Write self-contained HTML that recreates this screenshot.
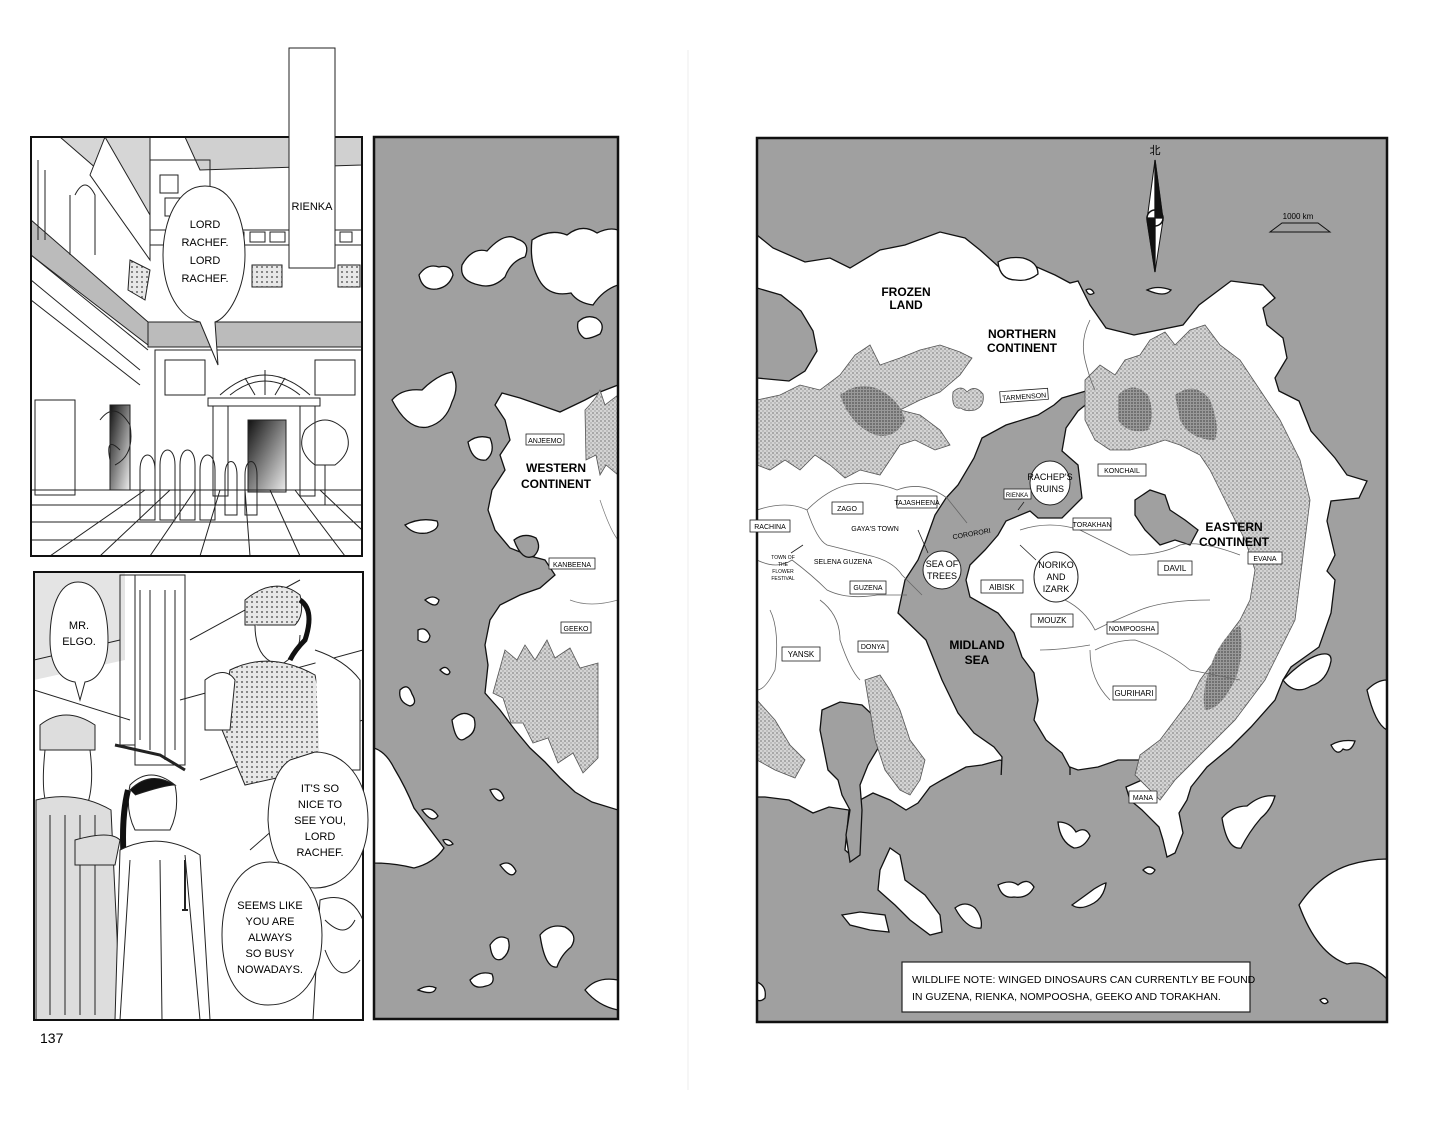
<!DOCTYPE html>
<html><head><meta charset="utf-8"><style>
html,body{margin:0;padding:0;background:#fff;}
svg{display:block;}
text{font-family:"Liberation Sans",sans-serif;}
</style></head><body>
<svg width="1456" height="1131" viewBox="0 0 1456 1131" xmlns="http://www.w3.org/2000/svg">
<defs>
<pattern id="mt" width="4" height="4" patternUnits="userSpaceOnUse">
<rect width="4" height="4" fill="#d4d4d4"/><circle cx="1" cy="1" r="0.9" fill="#888"/><circle cx="3" cy="3" r="0.7" fill="#999"/>
</pattern>
<pattern id="mtd" width="3" height="3" patternUnits="userSpaceOnUse">
<rect width="3" height="3" fill="#999"/><circle cx="1" cy="1" r="0.9" fill="#555"/>
</pattern>
<pattern id="knit" width="5" height="5" patternUnits="userSpaceOnUse">
<rect width="5" height="5" fill="#e8e8e8"/><circle cx="2" cy="2" r="1" fill="#666"/>
</pattern>
<linearGradient id="door" x1="0" y1="0" x2="1" y2="1"><stop offset="0" stop-color="#111"/><stop offset="1" stop-color="#eee"/></linearGradient>
<clipPath id="cR"><rect x="757" y="138" width="630" height="884"/></clipPath>
<clipPath id="cL"><rect x="374" y="137" width="244" height="882"/></clipPath>
<clipPath id="p1"><rect x="31" y="137" width="331" height="419"/></clipPath>
<clipPath id="p2"><rect x="34" y="572" width="329" height="448"/></clipPath>
</defs>

<!-- ================= PANEL 1 ================= -->
<g clip-path="url(#p1)" stroke="#222" stroke-width="1" fill="none">
<rect x="31" y="137" width="331" height="419" fill="#fff"/>
<polygon points="60,137 150,137 150,215" fill="#d6d6d6"/>
<polygon points="185,137 362,137 362,165 200,170" fill="#d0d0d0"/>
<polygon points="105,137 150,215 150,260 90,175" fill="#fff"/>
<rect x="150" y="160" width="60" height="70" />
<rect x="160" y="175" width="18" height="18"/><rect x="165" y="198" width="18" height="18"/>
<line x1="150" y1="230" x2="362" y2="230"/><line x1="150" y1="245" x2="362" y2="245"/>
<rect x="232" y="232" width="12" height="10"/><rect x="250" y="232" width="15" height="10"/><rect x="270" y="232" width="15" height="10"/><rect x="340" y="232" width="12" height="10"/>
<rect x="252" y="265" width="30" height="22" fill="url(#knit)"/><rect x="338" y="265" width="22" height="22" fill="url(#knit)"/>
<polygon points="130,260 150,270 145,300 128,290" fill="url(#knit)"/>
<polygon points="31,220 148,322 148,345 31,255" fill="#bbb"/>
<rect x="148" y="322" width="214" height="25" fill="#bbb"/>
<line x1="148" y1="347" x2="362" y2="347"/>
<line x1="31" y1="255" x2="148" y2="350"/><line x1="31" y1="280" x2="140" y2="370"/><line x1="31" y1="300" x2="140" y2="385"/>
<path d="M38,160 v80 M45,170 v70 M70,195 v60 M75,195 q10,-20 20,0 v60"/>
<rect x="155" y="350" width="207" height="140"/>
<rect x="165" y="360" width="40" height="35"/><rect x="315" y="360" width="40" height="35"/>
<path d="M220,395 q45,-40 90,0"/><path d="M230,395 q35,-28 70,0"/>
<line x1="265" y1="370" x2="265" y2="395"/><line x1="245" y1="378" x2="255" y2="395"/><line x1="285" y1="378" x2="275" y2="395"/>
<rect x="208" y="398" width="112" height="8"/>
<rect x="213" y="406" width="15" height="90"/><rect x="300" y="406" width="15" height="90"/>
<rect x="248" y="420" width="38" height="72" fill="url(#door)"/>
<rect x="110" y="405" width="20" height="85" fill="url(#door)"/>
<rect x="35" y="400" width="40" height="95"/>
<path d="M31,490 L362,490 M31,505 L362,505 M31,522 L362,522 M31,540 L362,540"/>
<path d="M170,490 L100,556 M195,490 L150,556 M220,490 L200,556 M245,490 L250,556 M270,490 L300,556 M295,490 L345,556 M320,490 L362,530 M145,490 L50,556"/>
<path d="M110,460 q-5,-25 10,-10 M140,470 c0,-20 15,-20 15,0 v50 h-15z M160,465 c0,-20 15,-20 15,0 v55 h-15z M180,465 c0,-20 15,-20 15,0 v55 h-15z M200,470 c0,-20 15,-20 15,0 v50 h-15z M225,475 c0,-18 12,-18 12,0 v40 h-12z M245,475 c0,-18 12,-18 12,0 v40 h-12z"/>
<path d="M305,430 q20,-20 40,0 q10,20 -10,35 h-20 q-20,-15 -10,-35z"/>
<path d="M325,465 v40 M315,505 h20"/>
<path d="M100,420 q15,-20 30,5 q5,30 -15,40"/>
</g>
<rect x="31" y="137" width="331" height="419" fill="none" stroke="#111" stroke-width="2"/>
<path d="M205,186 C235,186 245,225 245,255 C245,290 228,318 215,322 L218,365 L200,322 C180,318 163,292 163,255 C163,222 177,186 205,186 Z" fill="#fff" stroke="#222" stroke-width="1"/>
<text x="205" y="228" font-size="11" text-anchor="middle">LORD</text>
<text x="205" y="246" font-size="11" text-anchor="middle">RACHEF.</text>
<text x="205" y="264" font-size="11" text-anchor="middle">LORD</text>
<text x="205" y="282" font-size="11" text-anchor="middle">RACHEF.</text>
<rect x="289" y="48" width="46" height="220" fill="#fff" stroke="#222" stroke-width="1"/>
<text x="312" y="210" font-size="11" text-anchor="middle">RIENKA</text>

<!-- ================= PANEL 2 ================= -->
<g clip-path="url(#p2)" stroke="#222" stroke-width="1" fill="none">
<rect x="34" y="572" width="329" height="448" fill="#fff"/>
<polygon points="34,572 125,572 125,660 34,680" fill="#e4e4e4" stroke="none"/>
<rect x="120" y="575" width="35" height="170"/><rect x="135" y="575" width="50" height="190" fill="#fff"/>
<path d="M140,590 v150 M150,590 v160 M165,590 v170 M175,590 v160"/>
<path d="M115,745 L160,755 L185,770" stroke-width="3"/>
<path d="M34,660 L120,640 M34,690 L130,720 M190,640 L300,580 M180,700 L363,650 M200,780 L363,720 M250,850 L330,780"/>
<path d="M245,600 q30,-25 55,-5 q5,20 -5,30 l-50,0 z" fill="url(#knit)"/>
<path d="M255,625 q0,35 25,40 q20,-10 20,-30" fill="#fff"/>
<path d="M300,600 q15,10 5,40 q-10,10 -15,20" stroke-width="5" stroke="#111"/>
<path d="M230,670 q40,-20 85,5 l20,90 l-90,20 l-25,-60 z" fill="url(#knit)"/>
<path d="M205,680 q20,-15 30,0 l-5,50 l-25,0 z" fill="#fff"/>
<path d="M315,650 q30,10 45,30 v90 h-40" fill="#fff"/>
<path d="M40,725 q25,-20 55,0 v25 h-55z" fill="#ddd"/>
<path d="M45,750 q-5,50 5,60 M90,750 q5,40 -5,60"/>
<path d="M36,800 q40,-10 75,10 l10,210 h-85z" fill="#ddd"/>
<path d="M50,815 v200 M65,815 v200 M80,815 v200 M95,815 v200"/>
<path d="M75,840 q35,-10 45,0 l-5,25 h-40z" fill="#ddd"/>
<path d="M130,785 q20,-20 45,0 q5,25 -5,45 h-35 q-10,-20 -5,-45z" fill="#fff"/>
<path d="M128,790 q-10,40 0,110 q5,30 10,40" stroke="#111" stroke-width="6"/>
<path d="M130,790 q20,-20 45,-5 q-10,0 -40,10" fill="#111"/>
<path d="M120,850 q40,-20 80,5 l10,165 h-95z" fill="#fff"/>
<path d="M160,860 l2,160 M185,855 l15,165 M130,860 l-10,160"/>
<path d="M185,860 l0,50 M182,910 h6" stroke-width="2"/>
<path d="M320,900 q30,-10 43,20 v100 h-50z" fill="#fff"/>
<path d="M325,920 q20,20 30,0 M325,950 q15,40 35,10"/>
</g>
<rect x="34" y="572" width="329" height="448" fill="none" stroke="#111" stroke-width="2"/>
<path d="M78,582 C100,582 108,610 108,640 C108,665 98,680 85,682 L80,700 L75,682 C60,680 50,665 50,640 C50,610 58,582 78,582 Z" fill="#fff" stroke="#222"/>
<text x="79" y="629" font-size="11" text-anchor="middle">MR.</text>
<text x="79" y="645" font-size="11" text-anchor="middle">ELGO.</text>
<path d="M315,752 C345,752 368,780 368,820 C368,860 345,888 315,888 C290,888 270,860 268,820 C268,795 275,770 290,760 Z" fill="#fff" stroke="#222"/>
<text x="320" y="792" font-size="11" text-anchor="middle">IT'S SO</text>
<text x="320" y="808" font-size="11" text-anchor="middle">NICE TO</text>
<text x="320" y="824" font-size="11" text-anchor="middle">SEE YOU,</text>
<text x="320" y="840" font-size="11" text-anchor="middle">LORD</text>
<text x="320" y="856" font-size="11" text-anchor="middle">RACHEF.</text>
<path d="M270,862 C300,862 322,895 322,935 C322,980 300,1005 268,1005 C238,1005 222,975 222,935 C222,895 240,862 270,862 Z" fill="#fff" stroke="#222"/>
<text x="270" y="909" font-size="11" text-anchor="middle">SEEMS LIKE</text>
<text x="270" y="925" font-size="11" text-anchor="middle">YOU ARE</text>
<text x="270" y="941" font-size="11" text-anchor="middle">ALWAYS</text>
<text x="270" y="957" font-size="11" text-anchor="middle">SO BUSY</text>
<text x="270" y="973" font-size="11" text-anchor="middle">NOWADAYS.</text>
<text x="40" y="1043" font-size="14">137</text>

<!-- ================= LEFT MAP ================= -->
<g clip-path="url(#cL)" stroke="#111" stroke-width="1.3">
<rect x="374" y="137" width="244" height="882" fill="#a0a0a0" stroke="none"/>
<g fill="#fff">
<path d="M419,275 q8,-12 20,-8 q12,-3 14,8 q-4,12 -16,14 q-15,2 -18,-14z"/>
<path d="M462,265 q10,-18 25,-14 q18,-20 30,-12 q14,4 8,18 q-14,4 -20,20 q-12,12 -26,8 q-20,-4 -17,-20z"/>
<path d="M532,240 q18,-12 35,-5 q15,-12 30,-2 q12,-6 21,-3 v55 q-15,5 -25,20 q-15,-2 -22,-12 q-20,4 -30,-10 q-12,-18 -9,-43z"/>
<path d="M578,322 q8,-8 18,-4 q10,6 4,16 q-12,6 -16,4 q-8,-6 -6,-16z"/>
<path d="M392,400 q10,-12 30,-10 q15,-15 30,-18 q8,14 0,30 q-6,20 -24,25 q-20,4 -36,-27z"/>
<path d="M468,442 q10,-8 22,-4 q6,14 -4,22 q-14,2 -18,-18z"/>
<path d="M405,525 q15,-8 32,-4 q4,8 -10,12 q-14,2 -22,-8z"/>
<path d="M618,385 L600,392 L585,400 L560,412 L540,405 L520,398 L502,393 L495,405 L505,420 L510,440 L500,455 L505,470 L492,490 L488,510 L495,530 L510,548 L530,556 L545,560 L555,575 L540,588 L520,595 L500,605 L490,620 L485,645 L488,665 L485,693 L500,710 L515,730 L530,748 L545,762 L560,778 L575,792 L592,802 L618,810 Z"/>
<path d="M374,748 q12,4 20,20 q12,20 20,40 q15,20 30,40 q-10,15 -30,20 q-20,-5 -40,-5 z"/>
<path d="M425,600 q8,-6 14,0 q-2,10 -14,0z"/><path d="M418,630 q8,-4 12,6 q-2,10 -12,4z"/>
<path d="M400,690 q8,-8 12,4 q6,10 -2,12 q-12,-4 -10,-16z"/>
<path d="M452,720 q12,-12 22,-2 q4,14 -8,20 q-10,8 -14,-18z"/>
<path d="M440,670 q6,-6 10,2 q-2,6 -10,-2z"/>
<path d="M422,810 q10,-4 16,6 q-6,8 -16,-6z"/>
<path d="M490,790 q10,-4 14,8 q-6,8 -14,-8z"/>
<path d="M443,840 q6,-2 10,4 q-6,4 -10,-4z"/>
<path d="M490,945 q8,-12 18,-6 q4,12 -6,20 q-10,4 -12,-14z"/>
<path d="M540,935 q10,-12 25,-8 q14,8 6,20 q-10,8 -14,20 q-12,2 -17,-32z"/>
<path d="M470,980 q10,-10 22,-6 q4,10 -6,12 q-12,4 -16,-6z"/>
<path d="M418,990 q10,-6 18,-2 q-2,8 -18,2z"/>
<path d="M585,990 q12,-14 33,-10 v30 q-20,-4 -33,-20z"/>
<path d="M500,865 q10,-6 16,6 q-4,10 -16,-6z"/>
</g>
<path d="M514,540 q10,-8 22,-2 q6,10 -2,18 q-12,6 -20,-16z" fill="#a0a0a0"/>
<g fill="url(#mt)" stroke="#555" stroke-width="0.8">
<path d="M585,410 q10,-10 15,-20 l5,15 l13,-10 v80 l-12,-10 l-6,10 l-4,-20 l-10,5 z"/>
<path d="M505,650 l12,10 l8,-15 l10,15 l12,-20 l8,18 l15,-10 l10,20 l18,-5 v95 l-15,15 l-10,-20 l-15,10 l-10,-25 l-15,5 l-10,-20 l-12,0 l-8,-25 l-10,-5 z"/>
</g>
<path d="M570,600 q20,8 48,0 M600,500 q10,30 18,40" fill="none" stroke="#777" stroke-width="0.7"/>
</g>
<rect x="374" y="137" width="244" height="882" fill="none" stroke="#111" stroke-width="2.5"/>
<g font-size="7" text-anchor="middle">
<rect x="526" y="434" width="38" height="11" fill="#fff" stroke="#222" stroke-width="0.8"/><text x="545" y="443">ANJEEMO</text>
<rect x="549" y="558" width="46" height="11" fill="#fff" stroke="#222" stroke-width="0.8"/><text x="572" y="567">KANBEENA</text>
<rect x="561" y="622" width="30" height="11" fill="#fff" stroke="#222" stroke-width="0.8"/><text x="576" y="631">GEEKO</text>
</g>
<text x="556" y="472" font-size="12" font-weight="bold" text-anchor="middle">WESTERN</text>
<text x="556" y="488" font-size="12" font-weight="bold" text-anchor="middle">CONTINENT</text>

<!-- ================= RIGHT MAP ================= -->
<g clip-path="url(#cR)" stroke="#111" stroke-width="1.3">
<rect x="757" y="138" width="630" height="884" fill="#a0a0a0" stroke="none"/>
<g fill="#fff">
<path d="M757,235 L773,248 L805,262 L830,258 L850,268 L880,250 L905,245 L940,232 L965,238 L980,250 L1000,268 L1030,264 L1055,275 L1070,283 L1078,281 L1090,305 L1106,328 L1134,335 L1183,325 L1199,305 L1231,281 L1263,285 L1275,298 L1263,308 L1267,325 L1283,338 L1287,358 L1275,378 L1279,391 L1299,401 L1311,431 L1335,458 L1347,475 L1367,481 L1359,498 L1331,501 L1327,521 L1335,555 L1327,571 L1335,580 L1331,613 L1319,647 L1291,667 L1283,680 L1275,700 L1251,727 L1231,747 L1207,767 L1191,787 L1187,800 L1179,813 L1183,833 L1175,853 L1167,857 L1163,840 L1159,827 L1142,810 L1130,800 L1126,787 L1142,780 L1147,767 L1139,760 L1118,760 L1098,767 L1078,770 L1070,767 L1040,775 L1000,760 L982,765 L966,767 L942,780 L930,787 L918,803 L906,810 L890,800 L873,793 L860,800 L853,857 L845,850 L849,810 L829,807 L813,813 L789,800 L765,797 L757,797 Z"/>
<path d="M998,262 q10,-6 25,-4 q15,4 15,16 q-10,8 -22,6 q-16,0 -18,-18z"/>
<path d="M1147,290 q10,-5 24,0 q-6,8 -24,0z"/><path d="M1086,290 q5,-3 8,3 q-5,4 -8,-3z"/>
<path d="M880,870 L890,848 L900,855 L905,880 L925,895 L940,915 L942,932 L930,935 L910,920 L895,905 L878,890 Z"/>
<path d="M842,915 L860,912 L885,915 L889,932 L870,930 L850,925 Z"/>
<path d="M955,908 q10,-8 20,0 q8,10 6,20 q-14,2 -26,-20z"/>
<path d="M998,885 q12,-6 20,0 q10,-8 16,2 q-6,12 -20,10 q-12,2 -16,-12z"/>
<path d="M1072,905 q14,-10 22,-16 q10,-6 12,-6 q-2,14 -12,20 q-14,8 -22,2z"/>
<path d="M1058,822 q12,0 18,10 q10,-6 14,4 q-6,12 -16,12 q-14,-6 -16,-26z"/>
<path d="M1222,818 q10,-12 25,-12 q14,-12 28,-10 q-4,14 -14,22 q-12,14 -20,30 q-14,2 -19,-30z"/>
<path d="M1299,905 q20,-30 50,-40 q20,-6 38,-6 v120 q-20,-20 -40,-15 q-30,-10 -48,-59z"/>
<path d="M1367,690 q10,-10 20,-10 v50 q-12,-6 -20,-40z"/>
<path d="M1283,680 q20,-20 35,-25 q14,-4 13,6 q-4,20 -20,25 q-16,10 -28,-6z"/>
<path d="M1331,745 q10,-6 24,-4 q-4,12 -12,8 q-6,8 -12,-4z"/>
<path d="M1143,870 q6,-6 12,0 q-4,8 -12,0z"/>
<path d="M757,982 q10,4 8,16 q-4,4 -8,2z"/>
<path d="M1320,1000 q6,-4 8,2 q-4,4 -8,-2z"/>
</g>
<g fill="#a0a0a0">
<path d="M757,288 L781,295 L801,311 L813,331 L817,351 L805,371 L789,381 L757,378 Z"/>
<path d="M1062,398 L1086,391 L1094,398 L1078,411 L1066,428 L1062,451 L1078,465 L1082,498 L1062,518 L1038,518 L1030,511 L1006,521 L998,535 L985,550 L970,565 L966,580 L970,597 L998,613 L1014,633 L1022,657 L1034,673 L1038,700 L1034,720 L1046,740 L1062,753 L1070,768 L1070,800 L1000,800 L1002,757 L994,747 L974,733 L958,713 L942,680 L926,640 L898,613 L905,580 L918,560 L926,540 L935,515 L946,498 L958,485 L974,458 L982,438 L1006,425 L1038,415 L1054,405 Z"/>
<path d="M1135,500 L1150,490 L1165,495 L1170,510 L1185,520 L1198,530 L1190,545 L1175,540 L1160,545 L1145,530 L1135,515 Z"/>
<path d="M822,710 L840,702 L862,705 L878,720 L880,745 L868,765 L860,785 L862,810 L860,855 L850,862 L846,835 L850,810 L842,795 L838,780 L828,770 L824,750 L820,730 Z"/>
</g>
<rect x="996" y="775" width="80" height="35" fill="#a0a0a0" stroke="none"/>
<g fill="url(#mt)" stroke="#555" stroke-width="0.8">
<path d="M757,400 L780,395 L800,385 L820,390 L840,375 L855,355 L870,345 L880,365 L900,358 L920,350 L940,345 L960,352 L972,358 L960,375 L940,392 L920,400 L900,410 L920,415 L940,430 L950,445 L935,450 L915,440 L900,445 L890,460 L880,475 L860,470 L845,478 L830,465 L815,455 L800,470 L785,460 L770,470 L757,465 Z"/>
<path d="M1085,380 L1100,365 L1115,375 L1125,360 L1140,355 L1150,340 L1165,332 L1175,345 L1190,330 L1205,325 L1220,345 L1240,360 L1260,390 L1280,420 L1300,460 L1310,500 L1305,540 L1300,580 L1295,620 L1280,650 L1265,680 L1250,700 L1235,720 L1215,740 L1195,760 L1175,780 L1160,800 L1150,790 L1135,775 L1140,755 L1160,740 L1175,720 L1190,700 L1200,680 L1215,660 L1225,640 L1240,620 L1250,600 L1255,570 L1245,540 L1230,510 L1220,490 L1210,470 L1200,455 L1180,445 L1165,440 L1150,445 L1130,450 L1110,450 L1095,440 L1085,420 Z"/>
<path d="M865,680 L880,675 L890,690 L900,710 L910,740 L925,760 L920,780 L910,795 L900,790 L885,770 L875,740 L870,710 Z"/>
<path d="M757,700 L775,720 L790,745 L805,760 L795,778 L775,770 L757,760 Z"/>
<path d="M953,392 q8,-8 14,0 q8,-8 16,2 q2,12 -8,16 q-10,2 -14,-2 q-10,2 -8,-16z"/>
</g>
<g fill="url(#mtd)" stroke="none">
<path d="M840,395 q20,-15 40,-5 q20,10 25,30 q-10,20 -30,15 q-25,-10 -35,-40z"/>
<path d="M1118,395 q15,-15 30,0 q8,20 0,35 q-20,5 -30,-10z"/>
<path d="M1175,395 q20,-15 35,5 q10,25 5,40 q-25,0 -35,-20z"/>
<path d="M1215,655 q10,-20 25,-30 q5,30 -5,55 q-15,30 -30,30 q-5,-20 10,-55z"/>
</g>
<g fill="none" stroke="#666" stroke-width="0.8">
<path d="M757,510 q30,-10 50,0 q20,-20 40,-25 q25,-5 50,5 q25,-10 50,8 l20,25"/>
<path d="M807,510 q10,30 20,35 q20,5 40,10 q25,5 35,20 l20,20"/>
<path d="M757,560 q20,10 35,0 q20,15 35,30 q20,10 50,5 l30,0"/>
<path d="M770,610 q10,20 5,60 q-10,20 -18,20 M820,600 q20,15 20,40 q10,30 20,40"/>
<path d="M1020,530 q30,-10 60,0 q30,15 50,25 q30,0 50,-10 q20,-5 60,10"/>
<path d="M1070,560 q-10,20 -5,40 q20,10 30,30 q20,-10 45,-20 q25,-10 70,-10"/>
<path d="M1095,650 q20,-10 40,-10 q30,10 55,30 l50,10"/>
<path d="M1040,650 q20,0 50,-5 M1090,650 q0,30 20,50"/>
<path d="M1090,320 q-10,20 -5,40 q5,20 10,30"/>
</g>
<polygon points="1155,160 1163,220 1155,272 1147,220" fill="#fff" stroke="#111" stroke-width="1"/>
<polygon points="1155,160 1163,220 1155,220" fill="#111"/>
<polygon points="1155,272 1147,220 1155,220" fill="#111"/>
<circle cx="1155" cy="218" r="8" fill="#fff" stroke="#111" stroke-width="1.5"/>
<path d="M1155,210 A8,8 0 0 1 1163,218 L1155,218 Z M1155,226 A8,8 0 0 1 1147,218 L1155,218 Z" fill="#111"/>
<path d="M1270,232 L1282,223 L1318,223 L1330,232 Z" fill="none" stroke="#111" stroke-width="1"/>
</g>
<rect x="757" y="138" width="630" height="884" fill="none" stroke="#111" stroke-width="2.5"/>
<text x="1155" y="154" font-size="11" text-anchor="middle" font-family="Noto Sans CJK JP, sans-serif">北</text>
<text x="1298" y="219" font-size="8" text-anchor="middle">1000 km</text>

<g font-size="12" font-weight="bold" text-anchor="middle">
<text x="906" y="296">FROZEN</text><text x="906" y="309">LAND</text>
<text x="1022" y="338">NORTHERN</text><text x="1022" y="352">CONTINENT</text>
<text x="1234" y="531">EASTERN</text><text x="1234" y="546">CONTINENT</text>
<text x="977" y="649">MIDLAND</text><text x="977" y="664">SEA</text>
</g>
<g font-size="7" text-anchor="middle">
<g fill="#fff" stroke="#222" stroke-width="0.8">
<rect x="1000" y="390" width="48" height="11" transform="rotate(-4 1024 395)"/>
<rect x="1098" y="464" width="48" height="12"/>
<rect x="1004" y="489" width="27" height="10"/>
<rect x="897" y="496" width="40" height="12"/>
<rect x="832" y="502" width="31" height="12"/>
<rect x="750" y="520" width="40" height="12"/>
<rect x="1073" y="518" width="38" height="12"/>
<rect x="1158" y="561" width="34" height="14"/>
<rect x="1248" y="552" width="34" height="12"/>
<rect x="981" y="580" width="42" height="13"/>
<rect x="850" y="581" width="36" height="13"/>
<rect x="1031" y="614" width="42" height="13"/>
<rect x="1107" y="622" width="51" height="12"/>
<rect x="782" y="647" width="38" height="14"/>
<rect x="858" y="641" width="30" height="11"/>
<rect x="1113" y="686" width="43" height="14"/>
<rect x="1129" y="791" width="28" height="12"/>
</g>
<text x="1024" y="399" transform="rotate(-4 1024 395)">TARMENSON</text>
<text x="1122" y="473">KONCHAIL</text>
<text x="1017" y="497" font-size="6">RIENKA</text>
<text x="917" y="505">TAJASHEENA</text>
<text x="847" y="511">ZAGO</text>
<text x="770" y="529">RACHINA</text>
<text x="1092" y="527">TORAKHAN</text>
<text x="1175" y="571" font-size="8">DAVIL</text>
<text x="1265" y="561">EVANA</text>
<text x="1002" y="590" font-size="8">AIBISK</text>
<text x="868" y="590">GUZENA</text>
<text x="1052" y="623" font-size="8">MOUZK</text>
<text x="1132" y="631">NOMPOOSHA</text>
<text x="801" y="657" font-size="8">YANSK</text>
<text x="873" y="649">DONYA</text>
<text x="1134" y="696" font-size="8">GURIHARI</text>
<text x="1143" y="800">MANA</text>
<text x="875" y="531">GAYA'S TOWN</text>
<text x="843" y="564">SELENA GUZENA</text>
<text x="972" y="536" transform="rotate(-10 972 536)">CORORORI</text>
<text x="783" y="559" font-size="5">TOWN OF</text><text x="783" y="566" font-size="5">THE</text><text x="783" y="573" font-size="5">FLOWER</text><text x="783" y="580" font-size="5">FESTIVAL</text>
</g>
<g fill="none" stroke="#222" stroke-width="0.8">
<path d="M791,553 L803,545 M1024,502 L1018,510 M918,530 L928,553 M1020,545 L1036,560"/>
</g>
<g fill="#fff" stroke="#222" stroke-width="1">
<ellipse cx="1050" cy="483" rx="20" ry="22"/>
<ellipse cx="942" cy="570" rx="19" ry="19"/>
<ellipse cx="1056" cy="577" rx="22" ry="25"/>
</g>
<g font-size="9" text-anchor="middle">
<text x="1050" y="480">RACHEP'S</text><text x="1050" y="492">RUINS</text>
<text x="942" y="567">SEA OF</text><text x="942" y="579">TREES</text>
<text x="1056" y="568">NORIKO</text><text x="1056" y="580">AND</text><text x="1056" y="592">IZARK</text>
</g>
<rect x="902" y="962" width="348" height="50" fill="#fff" stroke="#222" stroke-width="1.2"/>
<text x="912" y="983" font-size="10.5">WILDLIFE NOTE: WINGED DINOSAURS CAN CURRENTLY BE FOUND</text>
<text x="912" y="1000" font-size="10.5">IN GUZENA, RIENKA, NOMPOOSHA, GEEKO AND TORAKHAN.</text>
<line x1="688" y1="50" x2="688" y2="1090" stroke="#eee" stroke-width="1"/>
</svg>
</body></html>
